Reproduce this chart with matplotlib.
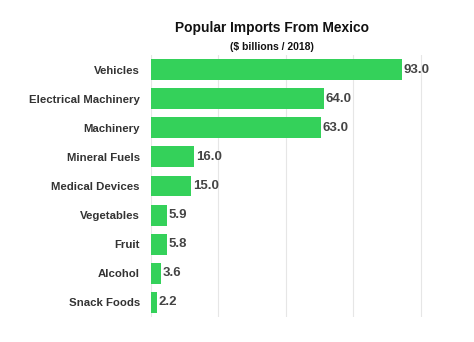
import matplotlib
matplotlib.use("Agg")
import matplotlib.pyplot as plt

categories = ["Vehicles", "Electrical Machinery", "Machinery", "Mineral Fuels",
              "Medical Devices", "Vegetables", "Fruit", "Alcohol", "Snack Foods"]
values = [93.0, 64.0, 63.0, 16.0, 15.0, 5.9, 5.8, 3.6, 2.2]
value_labels = ["93.0", "64.0", "63.0", "16.0", "15.0", "5.9", "5.8", "3.6", "2.2"]
grid_ticks = [25, 50, 75, 100]

plt.rcParams['font.family'] = ['Liberation Sans', 'DejaVu Sans']

fig = plt.figure(figsize=(4.74, 3.42), dpi=100)
ax = fig.add_axes([0.3186, 0.0731, 0.5745, 0.766])

y = list(range(len(categories)))
ax.barh(y, values, height=0.72, color="#34d15a", zorder=2)
ax.set_ylim(len(categories) - 0.5, -0.5)
ax.set_xlim(0, 101)
ax.set_xticks(grid_ticks)
ax.set_xticklabels([])
ax.tick_params(axis='x', length=0)
ax.tick_params(axis='y', length=0, pad=8)
ax.set_yticks(y)
ax.set_yticklabels(categories, fontsize=8.2, fontweight='bold', color="#333333")
ax.grid(axis='x', color="#e6e6e6", linewidth=0.8, zorder=0)
for s in ax.spines.values():
    s.set_visible(False)
ax.axvline(0, color="#e6e6e6", linewidth=0.8, zorder=0)

for yi, v, lab in zip(y, values, value_labels):
    ax.text(v + 0.6, yi, lab, va='center', ha='left', fontsize=9.5,
            fontweight='bold', color="#444444")

fig.text(0.574, 0.918, "Popular Imports From Mexico", ha='center', va='center',
         fontsize=9.9, fontweight='bold', color="#111111")
fig.text(0.574, 0.862, "($ billions / 2018)", ha='center', va='center',
         fontsize=7.5, fontweight='bold', color="#111111")

fig.savefig("out.png", dpi=100)
